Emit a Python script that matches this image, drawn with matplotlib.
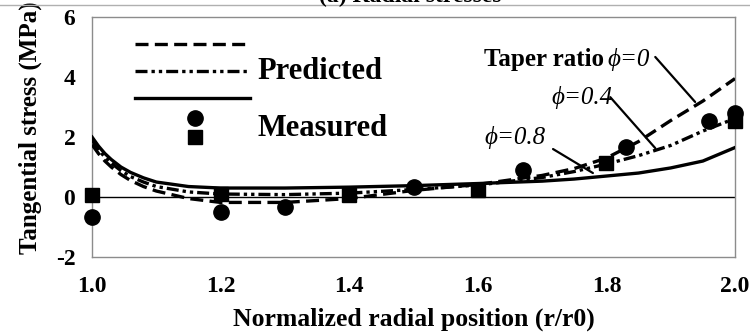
import matplotlib
matplotlib.use("Agg")
import matplotlib.pyplot as plt
from matplotlib.lines import Line2D

# radial positions (r/r0) used for the predicted curves
r_pred = [1.0, 1.01, 1.02, 1.03, 1.045, 1.06, 1.08, 1.1, 1.15, 1.2, 1.3, 1.4,
          1.5, 1.6, 1.7, 1.75, 1.8, 1.85, 1.9, 1.95, 2.0]
# predicted tangential stress (MPa) for each taper ratio
pred_phi0 = [1.75, 1.45, 1.2, 1.0, 0.75, 0.55, 0.35, 0.2, -0.05, -0.18, -0.18, -0.05,
             0.22, 0.42, 0.72, 0.95, 1.3, 1.85, 2.55, 3.2, 3.95]
pred_phi04 = [1.9, 1.58, 1.33, 1.13, 0.88, 0.68, 0.5, 0.35, 0.17, 0.1, 0.08, 0.13,
              0.25, 0.4, 0.65, 0.85, 1.1, 1.38, 1.72, 2.2, 2.62]
pred_phi08 = [2.0, 1.7, 1.45, 1.25, 1.0, 0.82, 0.64, 0.5, 0.35, 0.3, 0.3, 0.33,
              0.38, 0.45, 0.53, 0.6, 0.7, 0.8, 0.97, 1.2, 1.65]

# measured values
r_circ = [1.0, 1.2, 1.3, 1.5, 1.67, 1.83, 1.96, 2.0]
meas_circ = [-0.67, -0.5, -0.33, 0.35, 0.9, 1.67, 2.55, 2.8]
r_sq = [1.0, 1.2, 1.4, 1.6, 1.8, 2.0]
meas_sq = [0.07, 0.1, 0.07, 0.25, 1.13, 2.55]

xticks = [1.0, 1.2, 1.4, 1.6, 1.8, 2.0]
yticks = [-2, 0, 2, 4, 6]

plt.rcParams['font.family'] = ['Liberation Serif', 'DejaVu Serif']
plt.rcParams['font.weight'] = 'bold'

fig = plt.figure(figsize=(7.5, 3.35), dpi=100)
ax = fig.add_axes([0.1227, 0.2328, 0.8573, 0.7162])

lw = 2.4
dash = (3.9, 1.9)
dashdotdot = (3.6, 1.2, 1.0, 1.2, 1.0, 1.2)
ax.plot(r_pred, pred_phi0, color='black', lw=lw, dashes=dash, zorder=3)
ax.plot(r_pred, pred_phi04, color='black', lw=lw, dashes=dashdotdot, zorder=3)
ax.plot(r_pred, pred_phi08, color='black', lw=lw, zorder=3)
ax.plot(r_circ, meas_circ, 'o', color='black', ms=11, zorder=4, clip_on=False)
ax.plot(r_sq, meas_sq, 's', color='black', ms=10, zorder=4, clip_on=False)
ax.axhline(0, color='black', lw=1.0, zorder=2)

ax.set_xlim(1.0, 2.0)
ax.set_ylim(-2, 6)
ax.set_xticks(xticks)
ax.set_xticklabels([f"{v:.1f}" for v in xticks], fontsize=17, fontweight='bold')
ax.set_yticks(yticks)
ax.set_yticklabels([str(v) for v in yticks], fontsize=17, fontweight='bold')
ax.tick_params(axis='x', length=0, pad=14)
ax.tick_params(axis='y', length=0, pad=12)
for s in ax.spines.values():
    s.set_color('#8c8c8c')
    s.set_linewidth(1.0)

ax.set_xlabel("Normalized radial position (r/r0)", fontsize=18.5, fontweight='bold')
ax.xaxis.set_label_coords(0.5, -0.2125)
ax.set_ylabel("Tangential stress (MPa)", fontsize=18, fontweight='bold', va='center')
ax.yaxis.set_label_coords(-0.096, 0.54)

# hand-made legend
T = ax.transAxes
ax.add_line(Line2D([0.067, 0.246], [0.8875, 0.8875], transform=T, color='black', lw=lw, dashes=dash))
ax.add_line(Line2D([0.067, 0.246], [0.775, 0.775], transform=T, color='black', lw=lw, dashes=dashdotdot))
ax.add_line(Line2D([0.067, 0.246], [0.6625, 0.6625], transform=T, color='black', lw=lw))
ax.add_line(Line2D([0.16], [0.579], transform=T, color='black', marker='o', ms=11, ls='none'))
ax.add_line(Line2D([0.16], [0.50], transform=T, color='black', marker='s', ms=10, ls='none'))
ax.text(0.258, 0.775, "Predicted", transform=T, fontsize=22, fontweight='bold', va='center')
ax.text(0.258, 0.5375, "Measured", transform=T, fontsize=22, fontweight='bold', va='center')

# taper ratio labels with leader lines
ax.text(1.797, 4.57, "Taper ratio", fontsize=18, fontweight='bold', ha='right', va='center')
ax.text(1.802, 4.57, "ϕ=0", fontsize=18, fontweight='normal', style='italic', va='center')
ax.annotate("", xy=(1.938, 3.17), xytext=(1.876, 4.67),
            arrowprops=dict(arrowstyle='-', color='black', lw=1.6, shrinkA=0, shrinkB=0))
ax.text(1.715, 3.33, "ϕ=0.4", fontsize=18, fontweight='normal', style='italic', va='center')
ax.annotate("", xy=(1.876, 1.63), xytext=(1.806, 3.33),
            arrowprops=dict(arrowstyle='-', color='black', lw=1.6, shrinkA=0, shrinkB=0))
ax.text(1.611, 1.97, "ϕ=0.8", fontsize=18, fontweight='normal', style='italic', va='center')
ax.annotate("", xy=(1.779, 0.8), xytext=(1.717, 1.6),
            arrowprops=dict(arrowstyle='-', color='black', lw=1.6, shrinkA=0, shrinkB=0))

# panel title, mostly above the top edge
fig.text(0.547, 1 - 2 / 335, "(a) Radial stresses", ha='center', va='baseline',
         fontsize=17, fontweight='bold')
fig.add_artist(Line2D([0, 1], [1 - 5 / 335, 1 - 5 / 335], transform=fig.transFigure,
                      color='#b0b0b0', lw=1.0))

fig.savefig("out.png", dpi=100)
